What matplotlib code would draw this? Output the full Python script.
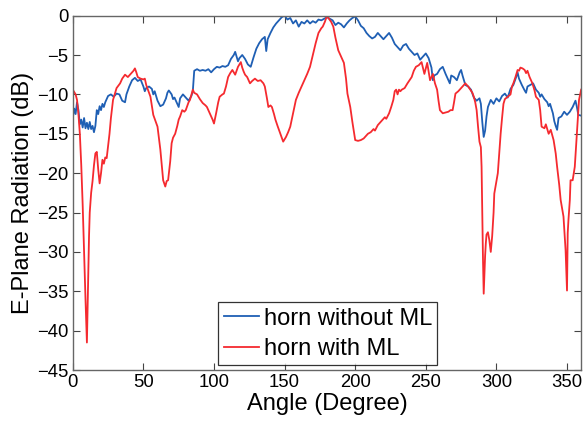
import matplotlib
matplotlib.use('Agg')
import matplotlib.pyplot as plt
import numpy as np

plt.rcParams['font.family'] = ['Liberation Sans', 'DejaVu Sans']

# horn without metamaterial layer (blue)
ang_no_ml = [0, 1, 2, 3, 4, 5, 6, 7, 8, 9, 10, 11, 12, 13, 14, 15, 16, 17, 18, 19,
             20, 21, 22, 23, 24, 25, 27, 29, 31, 33, 35, 37, 38, 40, 42, 44, 46, 48,
             50, 51, 52, 54, 56, 57, 58, 60, 62, 64, 66, 67, 68, 70, 71, 72, 74, 75,
             76, 78, 80, 82, 84, 85, 86, 88, 90, 92, 94, 96, 98, 100, 102, 104, 106,
             108, 110, 112, 114, 115, 116, 117, 118, 120, 122, 124, 126, 128, 130,
             132, 134, 136, 137, 138, 140, 142, 144, 146, 148, 150, 152, 154, 156,
             158, 160, 162, 164, 166, 168, 170, 172, 174, 176, 178, 180, 182, 184,
             186, 188, 190, 192, 194, 196, 198, 200, 202, 204, 206, 208, 210, 212,
             214, 216, 218, 220, 222, 224, 226, 228, 230, 232, 234, 236, 238, 240,
             242, 244, 246, 248, 250, 252, 254, 255, 256, 258, 260, 262, 264, 266,
             267, 268, 270, 272, 274, 275, 276, 278, 280, 282, 284, 286, 288, 289,
             290, 291, 292, 293, 294, 296, 298, 300, 302, 304, 306, 308, 310, 312,
             314, 315, 316, 318, 320, 321, 322, 324, 326, 328, 330, 331, 332, 334,
             336, 337, 338, 340, 341, 342, 343, 344, 346, 348, 350, 352, 354, 356,
             357, 358, 360]
db_no_ml = [-13.0, -11.8, -12.5, -11.0, -12.0, -13.8, -13.2, -14.2, -13.0, -14.3,
            -13.6, -14.4, -13.5, -14.4, -14.0, -14.8, -14.0, -12.0, -12.5, -11.5,
            -12.0, -11.2, -11.6, -11.0, -10.6, -10.2, -10.0, -10.3, -9.9, -10.0,
            -10.8, -11.0, -10.0, -9.0, -8.2, -7.9, -8.3, -8.1, -9.0, -9.6, -9.2,
            -9.0, -9.3, -10.0, -9.6, -10.8, -11.5, -11.3, -10.5, -9.8, -9.5, -10.0,
            -10.6, -10.4, -11.2, -11.6, -10.5, -10.0, -10.4, -10.8, -10.2, -9.6,
            -7.0, -6.8, -7.0, -6.9, -7.0, -6.8, -7.2, -6.8, -6.5, -6.6, -6.4, -6.5,
            -6.3, -5.5, -5.0, -4.6, -5.2, -5.8, -5.4, -5.0, -5.5, -6.2, -6.5, -5.3,
            -4.2, -3.5, -3.0, -2.7, -4.5, -3.0, -2.2, -1.5, -1.0, -0.6, -0.2, 0.0,
            -0.5, -0.3, -1.0, -0.6, -1.4, -0.8, -1.0, -0.6, -1.0, -0.7, -0.9, -0.5,
            -0.6, -0.4, -0.2, -0.4, -0.6, -1.2, -0.9, -1.1, -1.5, -1.0, -0.6, -0.3,
            -0.1, -0.6, -1.3, -1.6, -2.2, -2.6, -2.9, -2.7, -2.2, -2.6, -3.0, -2.6,
            -2.2, -2.8, -3.6, -4.0, -4.4, -3.8, -3.6, -4.2, -4.6, -5.0, -4.8, -5.6,
            -5.2, -4.8, -5.4, -6.6, -8.2, -7.6, -7.4, -6.8, -6.5, -7.4, -8.2, -8.6,
            -7.6, -7.8, -8.2, -7.2, -6.9, -7.6, -8.8, -9.0, -9.4, -10.4, -10.8,
            -10.5, -11.2, -13.5, -15.4, -14.6, -12.8, -11.6, -10.7, -11.2, -10.5,
            -10.9, -10.2, -9.9, -10.4, -9.3, -8.8, -7.8, -7.2, -8.0, -8.8, -9.5,
            -9.8, -9.0, -8.8, -8.6, -9.4, -9.8, -10.3, -10.0, -10.6, -11.0, -11.5,
            -11.2, -12.4, -13.4, -14.0, -14.5, -13.0, -12.8, -12.2, -12.6, -12.2,
            -11.6, -10.8, -11.6, -12.6, -12.7]

# horn with metamaterial layer (red)
ang_ml = [0, 2, 3, 4, 5, 6, 7, 8, 9, 10, 10.5, 11, 11.5, 12, 13, 14, 15, 16, 17, 18,
          19, 20, 21, 22, 23, 24, 25, 26, 27, 28.5, 30, 31, 33.5, 35, 37, 39, 41,
          43, 44, 45, 46, 48, 50, 51, 52, 54, 55, 57, 59, 60, 61, 62, 63, 64, 65.5,
          66.5, 67.5, 69, 70, 71, 72.5, 74, 75, 76, 77.5, 79, 80, 82, 83, 85, 86,
          88, 90, 92, 94, 95, 97, 99, 100, 101.5, 103, 104, 106, 107, 108.5, 110,
          111.5, 113, 115, 116, 117, 119, 120, 121, 122, 123.5, 125.5, 127, 129,
          131, 133, 135, 136, 137.5, 138.5, 140, 141, 142.5, 143.5, 145, 147, 149,
          151, 152.5, 154, 156, 158, 160, 161, 163, 164, 166, 168, 170, 172, 174,
          176, 177, 178.5, 180, 181, 183, 184.5, 186, 188, 190, 192, 193.5, 194.5,
          196.5, 198, 200, 202, 204, 206, 207, 209, 211, 213, 214, 216, 218, 219,
          221, 222, 224, 225.5, 227, 228, 229, 230, 231, 232, 233, 235, 237, 238.5,
          240, 241.5, 243, 245, 247, 249, 251, 253, 255, 256.5, 258, 259, 260,
          262, 264, 266, 267.5, 269, 270, 271, 273, 275, 277, 278, 280, 281.5,
          283, 284, 285, 286, 287, 288, 289, 289.5, 290, 290.5, 291, 291.5, 292,
          292.5, 293, 294, 295, 296, 297, 298, 298.5, 300, 301, 302, 303, 304,
          305, 306, 308, 310, 311, 312, 313.5, 315, 316, 317, 318.5, 320, 321,
          322, 323.5, 325.5, 327, 328, 330, 331, 332, 334, 335, 337, 338.5, 340.5,
          342, 343, 344.5, 345.5, 347.5, 349, 350, 350.5, 351, 352, 352.5, 354,
          355.5, 357, 358.5, 360]
db_ml = [-9.4, -10.0, -10.7, -12.5, -15.0, -19.0, -24.0, -30.0, -36.0, -41.5, -37.0,
         -32.0, -28.0, -25.0, -22.5, -21.0, -19.0, -17.5, -17.3, -19.5, -21.3,
         -20.0, -18.3, -18.8, -18.0, -18.1, -16.5, -15.0, -13.0, -10.7, -9.8, -9.2,
         -8.6, -8.0, -7.5, -7.8, -7.4, -7.0, -6.7, -7.2, -7.8, -8.0, -8.1, -8.0,
         -8.8, -9.8, -10.3, -12.6, -13.6, -14.1, -15.5, -17.0, -19.0, -20.9, -21.7,
         -21.0, -20.9, -18.5, -16.2, -15.5, -15.0, -14.0, -13.2, -12.8, -12.0,
         -12.2, -12.0, -11.0, -10.7, -9.4, -9.8, -10.0, -10.6, -11.1, -11.4, -11.6,
         -12.4, -13.2, -13.7, -12.4, -11.0, -10.3, -10.0, -9.9, -9.0, -7.8, -7.3,
         -6.9, -7.5, -7.0, -6.5, -5.9, -6.6, -7.1, -7.5, -7.8, -8.6, -8.3, -8.0,
         -8.3, -8.2, -8.6, -9.0, -10.5, -11.6, -11.4, -11.6, -12.5, -13.2, -14.0,
         -15.0, -16.0, -15.4, -14.8, -14.1, -12.4, -10.7, -9.8, -9.4, -8.6, -8.2,
         -7.4, -6.5, -5.0, -3.5, -2.2, -1.6, -1.4, -0.8, 0.0, -0.3, -0.8, -1.4,
         -2.8, -4.4, -5.2, -6.0, -8.0, -9.9, -11.6, -13.5, -15.8, -15.9, -15.8,
         -15.6, -15.4, -15.0, -14.8, -14.4, -14.6, -13.9, -13.5, -13.3, -12.9,
         -13.1, -12.4, -11.6, -10.7, -9.6, -9.4, -10.0, -9.4, -9.6, -9.4, -9.2,
         -8.6, -8.2, -7.8, -7.0, -6.5, -6.3, -5.9, -7.4, -6.0, -8.2, -7.4, -8.6,
         -9.4, -10.8, -12.0, -12.4, -12.3, -12.2, -12.0, -12.0, -11.0, -9.9, -9.6,
         -9.2, -8.8, -8.6, -9.0, -9.4, -9.8, -10.3, -11.0, -12.0, -14.1, -16.0,
         -16.7, -19.2, -25.0, -31.0, -35.3, -33.0, -30.5, -28.9, -27.8, -27.5,
         -28.5, -30.0, -28.0, -25.0, -22.6, -21.0, -20.0, -17.5, -15.0, -13.0,
         -11.2, -10.6, -10.3, -10.0, -9.0, -8.6, -7.8, -6.9, -7.0, -6.6, -6.7,
         -6.9, -7.3, -7.0, -7.8, -8.6, -9.5, -10.3, -10.7, -12.0, -14.1, -14.3,
         -13.8, -15.0, -14.5, -15.8, -17.5, -19.2, -21.5, -23.4, -25.5, -29.8,
         -34.9, -27.6, -26.0, -23.4, -20.9, -20.9, -19.2, -15.0, -10.7, -9.4]

x_ticks = [0, 50, 100, 150, 200, 250, 300, 350]
y_ticks = [0, -5, -10, -15, -20, -25, -30, -35, -40, -45]

fig = plt.figure(figsize=(5.87, 4.22), dpi=100)
ax = fig.add_axes([0.124, 0.123, 0.866, 0.840])

ax.plot(ang_no_ml, db_no_ml, color='#1f5fb4', lw=1.3, label='horn without ML')
ax.plot(ang_ml, db_ml, color='#f52a2f', lw=1.3, label='horn with ML')

ax.set_xlim(0, 360)
ax.set_ylim(-45, 0)
ax.set_xticks(x_ticks)
ax.set_yticks(y_ticks)
ax.tick_params(direction='in', top=True, right=True, length=5, width=0.8,
               color='#444444', labelsize=13.3, pad=3)
for s in ax.spines.values():
    s.set_color('#666666')
    s.set_linewidth(1.0)

ax.set_xlabel('Angle (Degree)', fontsize=17, labelpad=1)
ax.set_ylabel('E-Plane Radiation (dB)', fontsize=17, labelpad=2)

leg = ax.legend(loc='lower right', bbox_to_anchor=(0.717, 0.014), fontsize=17,
                frameon=True, fancybox=False, handlelength=1.5, handletextpad=0.2,
                labelspacing=0.35, borderpad=0.22, borderaxespad=0.0)
leg.get_frame().set_edgecolor('black')
leg.get_frame().set_linewidth(0.9)

fig.savefig('out.png', dpi=100)
